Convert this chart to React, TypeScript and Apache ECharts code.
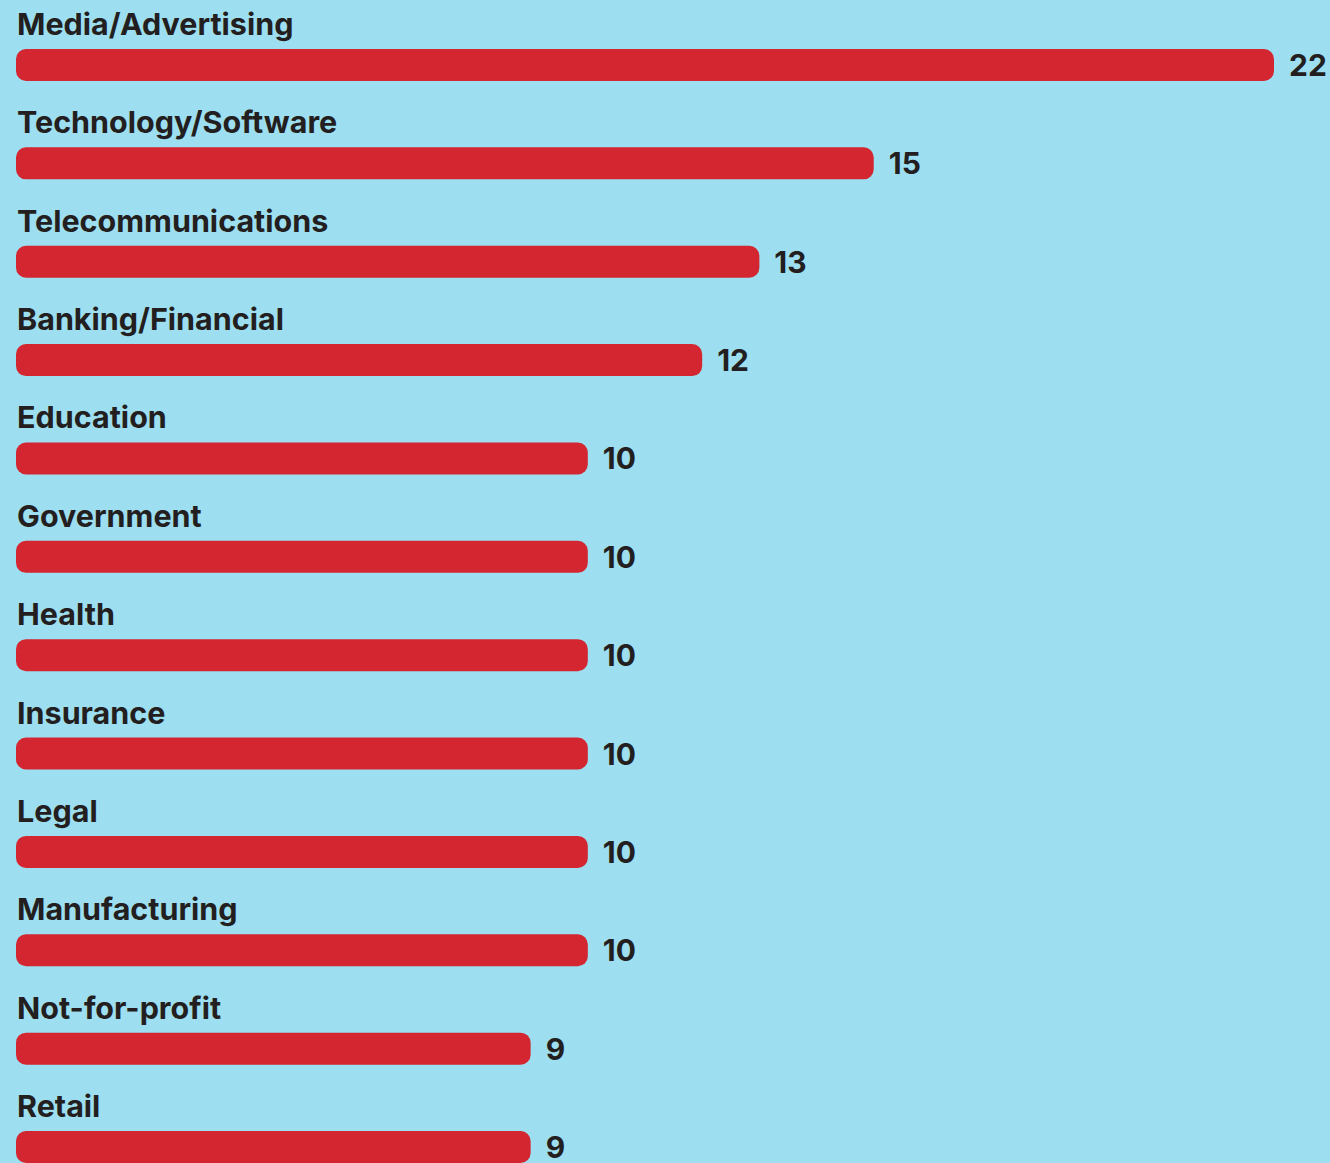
import React, { useEffect, useRef } from "react";
import * as echarts from "echarts";

const categories = [
  "Media/Advertising",
  "Technology/Software",
  "Telecommunications",
  "Banking/Financial",
  "Education",
  "Government",
  "Health",
  "Insurance",
  "Legal",
  "Manufacturing",
  "Not-for-profit",
  "Retail",
];
const values = [22, 15, 13, 12, 10, 10, 10, 10, 10, 10, 9, 9];

const BG = "#9DDEF0";
const RED = "#D42631";
const INK = "#231F20";
const FONT = "Inter, 'Noto Sans', sans-serif";

export default function App() {
  const ref = useRef<HTMLDivElement>(null);
  useEffect(() => {
    if (!ref.current) return;
    const chart = echarts.init(ref.current, null, { renderer: "svg" });
    chart.setOption({
      animation: false,
      backgroundColor: BG,
      grid: { left: 16, top: 65, width: 1258, height: 1082, containLabel: false },
      xAxis: { type: "value", min: 0, max: 22, show: false },
      yAxis: {
        type: "category",
        data: categories,
        inverse: true,
        boundaryGap: false,
        show: false,
      },
      series: [
        {
          type: "bar",
          data: values,
          barWidth: 32,
          itemStyle: { color: RED, borderRadius: 10 },
          label: {
            show: true,
            position: [1, -41],
            align: "left",
            verticalAlign: "top",
            formatter: (p: any) => p.name,
            color: INK,
            fontFamily: FONT,
            fontWeight: "bold",
            fontSize: 30.5,
          },
          silent: true,
        },
        {
          type: "bar",
          data: values,
          barWidth: 32,
          barGap: "-100%",
          itemStyle: { color: "transparent" },
          label: {
            show: true,
            position: "right",
            distance: 15,
            formatter: (p: any) => String(p.value),
            color: INK,
            fontFamily: FONT,
            fontWeight: "bold",
            fontSize: 30,
          },
          silent: true,
        },
      ],
    });
    return () => chart.dispose();
  }, []);
  return (
    <div
      ref={ref}
      style={{ position: "fixed", left: 0, top: 0, width: 1330, height: 1163 }}
    />
  );
}
